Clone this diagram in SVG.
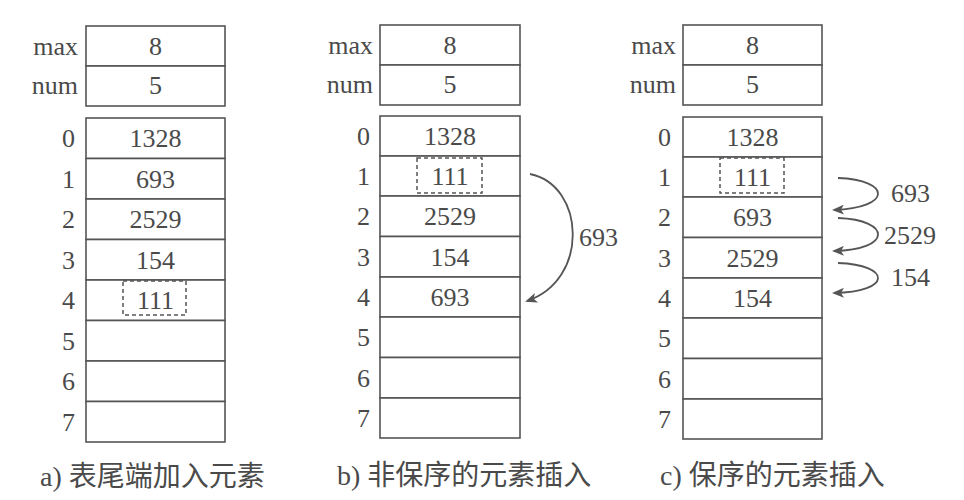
<svg xmlns="http://www.w3.org/2000/svg" width="964" height="500" viewBox="0 0 964 500">
<defs>
<style>
.cell{fill:#fff;stroke:#555;stroke-width:1.6}
.dash{fill:none;stroke:#555;stroke-width:1.5;stroke-dasharray:4 3}
.t{font-family:"Liberation Serif","Times New Roman",serif;font-size:26px;fill:#4a4a4a}
.v{text-anchor:middle}
.i{text-anchor:end}
.cap{font-family:"Liberation Serif","Noto Sans CJK SC",serif;font-size:28px;fill:#4a4a4a}
.arc{fill:none;stroke:#555;stroke-width:1.8;marker-end:url(#ah)}
</style>
<marker id="ah" viewBox="0 0 12 10" refX="10" refY="5" markerWidth="12" markerHeight="10" markerUnits="userSpaceOnUse" orient="auto">
<path d="M0,0 L12,5 L0,10 L3,5 Z" fill="#555"/>
</marker>
</defs>

<g id="panel-a">
<rect class="cell" x="86" y="26" width="139" height="40"/>
<rect class="cell" x="86" y="66" width="139" height="40"/>
<text class="t i" x="78" y="55">max</text>
<text class="t i" x="78" y="94">num</text>
<text class="t v" x="155.5" y="55">8</text>
<text class="t v" x="155.5" y="94">5</text>
<rect class="cell" x="86" y="118" width="139" height="40.5"/>
<rect class="cell" x="86" y="158.5" width="139" height="40.5"/>
<rect class="cell" x="86" y="199" width="139" height="40.5"/>
<rect class="cell" x="86" y="239.5" width="139" height="40.5"/>
<rect class="cell" x="86" y="280" width="139" height="40.5"/>
<rect class="cell" x="86" y="320.5" width="139" height="40.5"/>
<rect class="cell" x="86" y="361" width="139" height="40.5"/>
<rect class="cell" x="86" y="401.5" width="139" height="40.5"/>
<text class="t i" x="75" y="147">0</text>
<text class="t i" x="75" y="188">1</text>
<text class="t i" x="75" y="228">2</text>
<text class="t i" x="75" y="269">3</text>
<text class="t i" x="75" y="309">4</text>
<text class="t i" x="75" y="350">5</text>
<text class="t i" x="75" y="390">6</text>
<text class="t i" x="75" y="431">7</text>
<text class="t v" x="155.5" y="147">1328</text>
<text class="t v" x="155.5" y="188">693</text>
<text class="t v" x="155.5" y="228">2529</text>
<text class="t v" x="155.5" y="269">154</text>
<rect class="dash" x="123" y="281" width="63" height="34"/>
<text class="t v" x="155.5" y="309">111</text>
<text class="cap" x="40" y="486">a) 表尾端加入元素</text>
</g>

<g id="panel-b">
<rect class="cell" x="380" y="25" width="140" height="40"/>
<rect class="cell" x="380" y="65" width="140" height="40"/>
<text class="t i" x="373" y="54">max</text>
<text class="t i" x="373" y="93">num</text>
<text class="t v" x="450" y="54">8</text>
<text class="t v" x="450" y="93">5</text>
<rect class="cell" x="380" y="116" width="140" height="40"/>
<rect class="cell" x="380" y="156" width="140" height="40"/>
<rect class="cell" x="380" y="196" width="140" height="40.5"/>
<rect class="cell" x="380" y="236.5" width="140" height="40.5"/>
<rect class="cell" x="380" y="277" width="140" height="40"/>
<rect class="cell" x="380" y="317" width="140" height="40.5"/>
<rect class="cell" x="380" y="357.5" width="140" height="40.5"/>
<rect class="cell" x="380" y="398" width="140" height="40"/>
<text class="t i" x="370" y="145">0</text>
<text class="t i" x="370" y="185">1</text>
<text class="t i" x="370" y="225">2</text>
<text class="t i" x="370" y="266">3</text>
<text class="t i" x="370" y="306">4</text>
<text class="t i" x="370" y="346">5</text>
<text class="t i" x="370" y="387">6</text>
<text class="t i" x="370" y="427">7</text>
<text class="t v" x="450" y="145">1328</text>
<rect class="dash" x="417" y="158" width="65" height="35"/>
<text class="t v" x="450" y="185">111</text>
<text class="t v" x="450" y="225">2529</text>
<text class="t v" x="450" y="266">154</text>
<text class="t v" x="450" y="306">693</text>
<text class="t" x="579" y="246">693</text>
<text class="cap" x="337" y="485">b) 非保序的元素插入</text>
</g>

<g id="panel-c">
<rect class="cell" x="683" y="25" width="139" height="40"/>
<rect class="cell" x="683" y="65" width="139" height="40"/>
<text class="t i" x="676" y="54">max</text>
<text class="t i" x="676" y="93">num</text>
<text class="t v" x="752.5" y="54">8</text>
<text class="t v" x="752.5" y="93">5</text>
<rect class="cell" x="683" y="117" width="139" height="40"/>
<rect class="cell" x="683" y="157" width="139" height="40"/>
<rect class="cell" x="683" y="197" width="139" height="40.5"/>
<rect class="cell" x="683" y="237.5" width="139" height="40.5"/>
<rect class="cell" x="683" y="278" width="139" height="40"/>
<rect class="cell" x="683" y="318" width="139" height="40.5"/>
<rect class="cell" x="683" y="358.5" width="139" height="40.5"/>
<rect class="cell" x="683" y="399" width="139" height="40"/>
<text class="t i" x="671" y="146">0</text>
<text class="t i" x="671" y="186">1</text>
<text class="t i" x="671" y="226">2</text>
<text class="t i" x="671" y="267">3</text>
<text class="t i" x="671" y="307">4</text>
<text class="t i" x="671" y="347">5</text>
<text class="t i" x="671" y="388">6</text>
<text class="t i" x="671" y="428">7</text>
<text class="t v" x="752.5" y="146">1328</text>
<rect class="dash" x="720" y="158" width="64" height="35"/>
<text class="t v" x="752.5" y="186">111</text>
<text class="t v" x="752.5" y="226">693</text>
<text class="t v" x="752.5" y="267">2529</text>
<text class="t v" x="752.5" y="307">154</text>
<text class="t" x="891" y="202">693</text>
<text class="t" x="884" y="244">2529</text>
<text class="t" x="891" y="286">154</text>
<text class="cap" x="660" y="485">c) 保序的元素插入</text>
</g>

<g id="connectors">
<path class="arc" d="M530,174 C585,185 590,280 527,301"/>
<path class="arc" d="M838,178 C892,180 892,208 834,210"/>
<path class="arc" d="M838,218 C892,220 892,250 834,251"/>
<path class="arc" d="M838,263 C892,265 892,292 834,293"/>
</g>
</svg>
